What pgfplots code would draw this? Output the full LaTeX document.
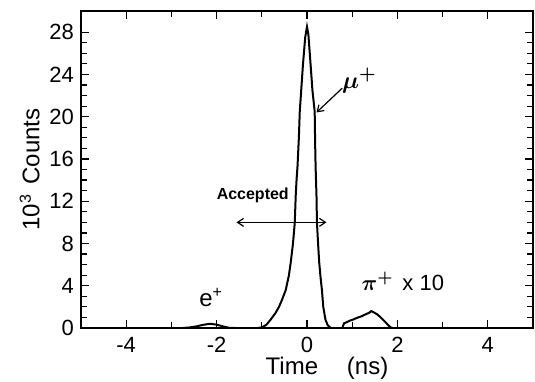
\documentclass[border=0pt]{standalone}
\usepackage{fontspec}
\setmainfont{Liberation Sans}
\usepackage{amsmath}
\usepackage{pgfplots}
\pgfplotsset{compat=1.18}
\usetikzlibrary{arrows.meta}
\begin{document}
\begin{tikzpicture}
\path[use as bounding box] (-40.5pt,-26.5pt) rectangle (227pt,164pt);
\begin{axis}[
  scale only axis,
  width=226pt, height=158.5pt,
  xmin=-5, xmax=5, ymin=0, ymax=30,
  xtick={-4,-2,0,2,4},
  minor xtick={-3,-1,1,3},
  ytick={0,4,8,12,16,20,24,28},
  minor y tick num=3,
  tick align=inside,
  major tick length=4pt,
  minor tick length=3pt,
  axis line style={line width=0.8pt},
  every tick/.style={line width=0.6pt, black},
  /pgf/number format/assume math mode=true,
  tick label style={font=\fontsize{11}{13}\selectfont},
  xticklabel style={yshift=-1pt},
  xlabel={Time\hspace{1.2em}(ns)},
  ylabel={10\textsuperscript{3}\hspace{0.4em}Counts},
  label style={font=\fontsize{12}{14}\selectfont},
  ylabel style={yshift=-2pt},
  xlabel style={yshift=4.5pt, xshift=10pt},
  clip=true,
]
% main muon peak (with e+ bump)
\addplot[black, line width=1pt] coordinates {
(-5,0) (-2.75,0) (-2.6,0.05) (-2.45,0.15) (-2.3,0.3) (-2.15,0.4) (-2.0,0.32) (-1.85,0.14) (-1.72,0.02) (-1.6,0)
(-1.1,0) (-1.0,0.05) (-0.9,0.3) (-0.81,0.76) (-0.7,1.4) (-0.62,2.0) (-0.55,2.7) (-0.47,3.6)
(-0.40,5.0) (-0.36,6.2) (-0.31,8.0) (-0.27,10.0) (-0.25,12.5) (-0.23,14.1) (-0.21,15.3)
(-0.18,18.0) (-0.16,20.5) (-0.12,23.0) (-0.09,24.9) (-0.04,27.5) (0.0,28.5) (0.03,27.8)
(0.08,24.9) (0.12,22.5) (0.17,20.5) (0.18,17.5) (0.19,15.3) (0.21,12.5) (0.22,10.0)
(0.245,8.0) (0.27,6.2) (0.30,4.8) (0.33,3.6) (0.36,2.0) (0.41,0.76) (0.46,0.25) (0.53,0.0)
(0.78,0)
};
% pion x 10
\addplot[black, line width=1pt] coordinates {
(0.78,0) (0.82,0.45) (0.88,0.55) (0.95,0.7) (1.02,0.8) (1.1,0.95) (1.2,1.1) (1.3,1.3)
(1.38,1.45) (1.42,1.6) (1.47,1.5) (1.55,1.3) (1.62,1.05) (1.7,0.7) (1.78,0.35) (1.85,0.05) (1.9,0) (5,0)
};
% annotations
\node[font=\boldmath\fontsize{12.5}{14}\selectfont, anchor=south west, inner sep=0pt] at (axis cs:0.77,22.2) {$\mu^{+}$};
\draw[line width=0.6pt, -{Straight Barb[length=3pt,width=4pt]}] (axis cs:0.78,22.7) -- (axis cs:0.21,20.4);
\node[font=\bfseries\fontsize{8}{10}\selectfont] at (axis cs:-1.2,12.6) {Accepted};
\draw[line width=0.6pt, {Straight Barb[length=3pt,width=4pt]}-{Straight Barb[length=3pt,width=4pt]}] (axis cs:-1.56,10) -- (axis cs:0.43,10);
\node[font=\fontsize{12}{14}\selectfont] at (axis cs:-2.12,2.9) {e\textsuperscript{+}};
\node[font=\fontsize{11}{13}\selectfont] at (axis cs:2.12,4.4) {{\boldmath$\pi^{+}$}\hspace{0.4em}x 10};
\end{axis}
\end{tikzpicture}
\end{document}
